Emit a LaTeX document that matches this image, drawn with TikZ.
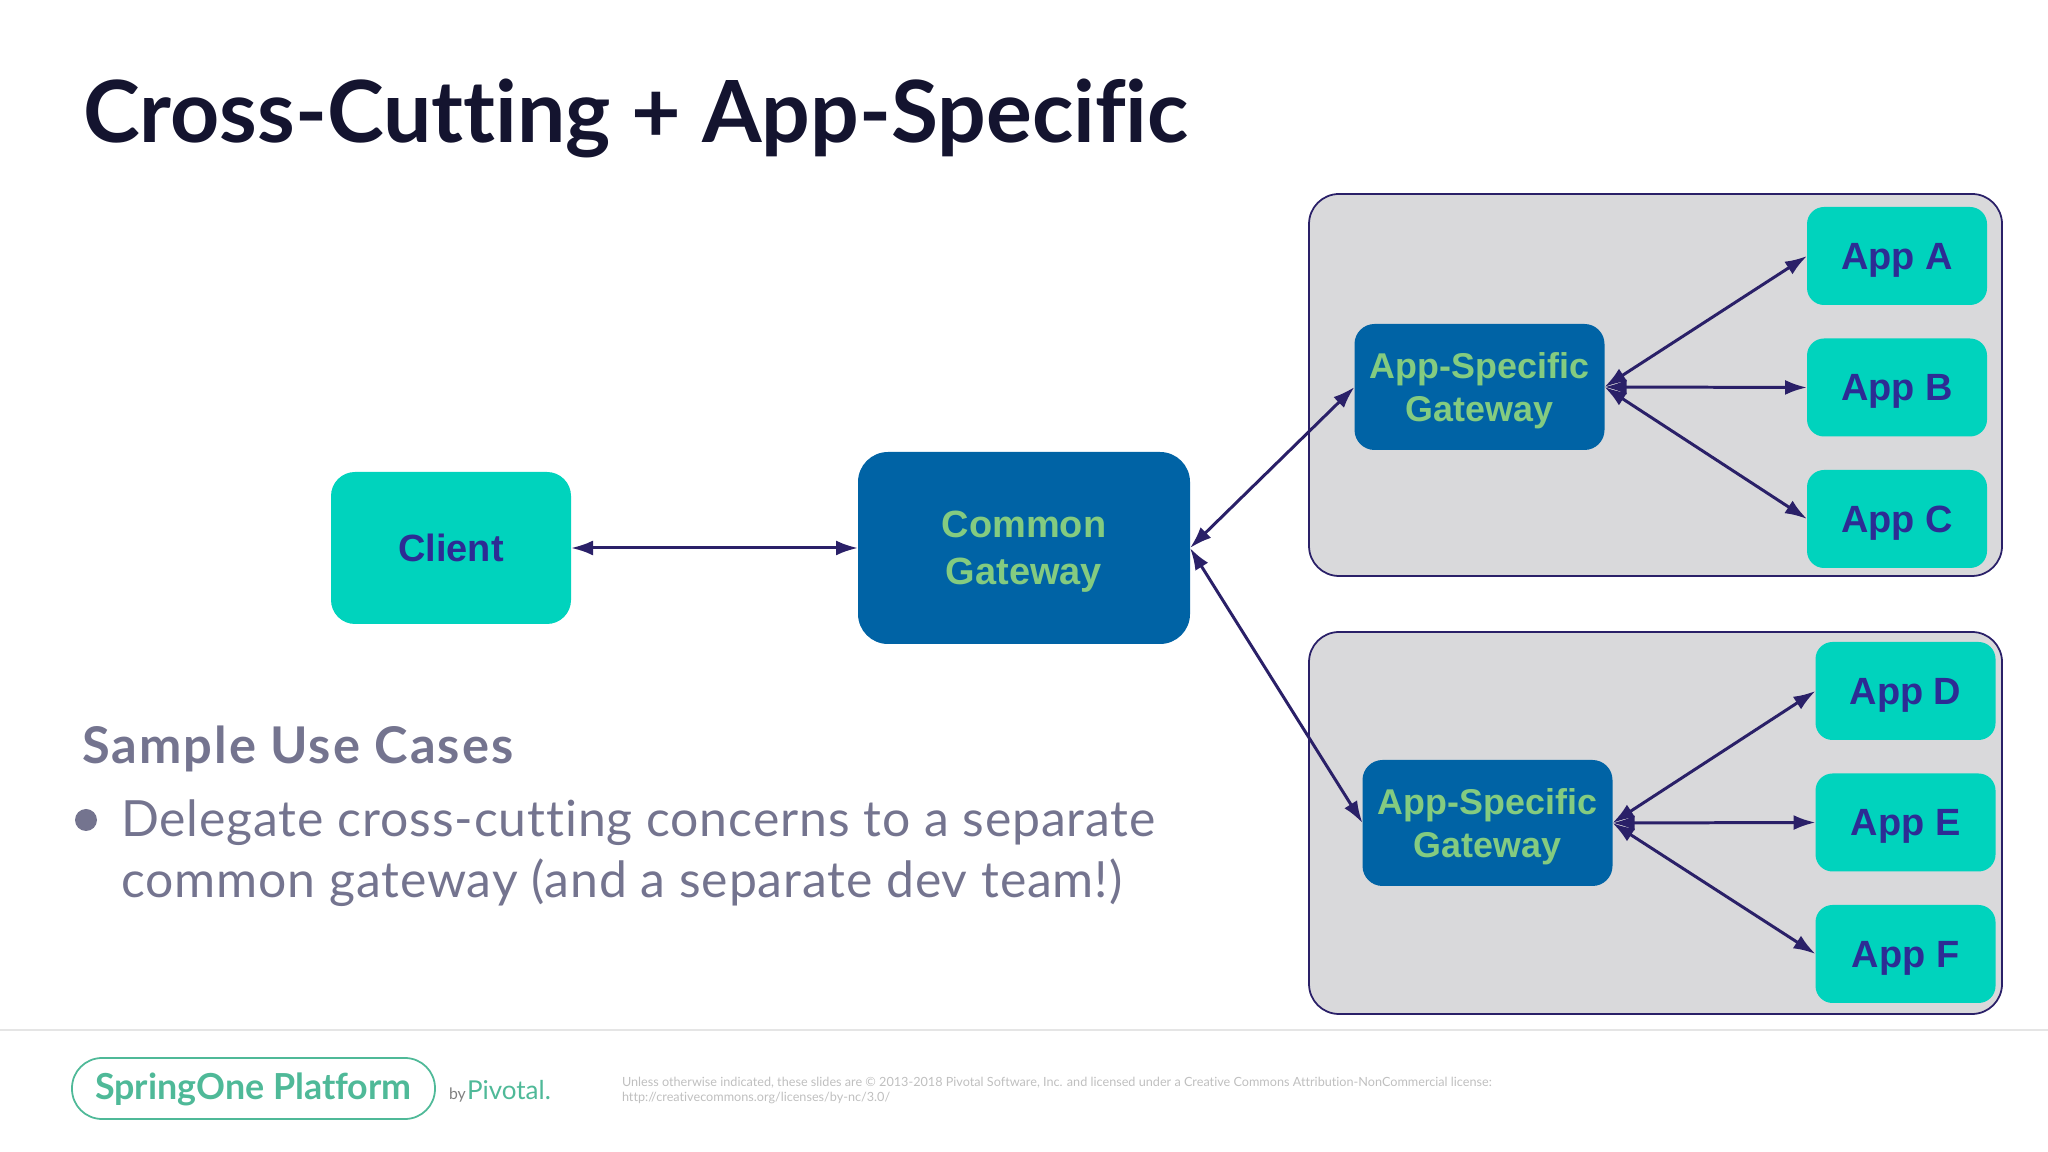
\documentclass[tikz,border=0pt]{standalone}
\usepackage{fontspec}
\setmainfont{Lato}[Ligatures=CommonOff]
\newfontfamily\labelfont{Liberation Sans}
\usepackage{tikz}
\usetikzlibrary{positioning}
\usetikzlibrary{arrows.meta}
\definecolor{titlecol}{HTML}{14142F}
\definecolor{bodycol}{HTML}{74748F}
\definecolor{tealcol}{HTML}{00D3BD}
\definecolor{bluecol}{HTML}{0063A5}
\definecolor{greencol}{HTML}{84CB80}
\definecolor{navycol}{HTML}{2D2C94}
\definecolor{arrowcol}{HTML}{2A2068}
\definecolor{panelcol}{HTML}{D9D9DB}
\definecolor{brandcol}{HTML}{4FB998}

\begin{document}
\begin{tikzpicture}[x=0.1mm,y=-0.1mm,node distance=3.35mm,outer sep=0pt,inner sep=0pt]

	\useasboundingbox (0,0) rectangle (2048,1152);

	\tikzset{panel/.style={shape=rectangle,draw=arrowcol,line width=0.5pt,fill=panelcol,
		rounded corners=3mm,minimum width=69.3mm,minimum height=38.2mm}}

	\tikzset{appbox/.style={align=center,shape=rectangle,fill=tealcol,text=navycol,rounded corners=1.7mm,text depth=0pt,
		minimum width=18mm,minimum height=9.8mm,font=\labelfont\bfseries\fontsize{10.8}{12}\selectfont}}

	\tikzset{gatebox/.style={align=center,shape=rectangle,fill=bluecol,text=greencol,rounded corners=2mm,text depth=0pt,
		minimum width=25mm,minimum height=12.6mm,font=\labelfont\bfseries\fontsize{10.2}{12.4}\selectfont}}

	\tikzset{link/.style={{Latex[length=2.2mm,width=1.5mm]}-{Latex[length=2.2mm,width=1.5mm]},draw=arrowcol,line width=0.85pt}}

	\node (title) at (83,143) [anchor=base west,text=titlecol,font=\bfseries\fontsize{24.4}{28}\selectfont] {Cross-Cutting + App-Specific};

	% Client and common gateway.
	\node (client) at (451,548) [appbox,minimum width=24mm,minimum height=15.2mm,rounded corners=2.4mm,font=\labelfont\bfseries\fontsize{10.8}{12}\selectfont] {Client};
	\node (common) at (1024,548) [gatebox,minimum width=33.2mm,minimum height=19.2mm,rounded corners=3mm,font=\labelfont\bfseries\fontsize{10.8}{13.3}\selectfont] {Common\\Gateway};

	% Upper panel, apps one below another.
	\node (panelone) at (1655.5,385) [panel] {};
	\node (gateone) at (1479.5,387) [gatebox] {App-Specific\\Gateway};
	\node (appa) at (1897,256) [appbox] {App A};
	\node (appb) [appbox,below=of appa] {App B};
	\node (appc) [appbox,below=of appb] {App C};

	% Lower panel, apps one below another.
	\node (paneltwo) at (1655.5,823) [panel] {};
	\node (gatetwo) at (1487.5,823) [gatebox] {App-Specific\\Gateway};
	\node (appd) at (1905.5,691) [appbox] {App D};
	\node (appe) [appbox,below=of appd] {App E};
	\node (appf) [appbox,below=of appe] {App F};

	% Pointers between the boxes.
	\draw [link] (client.east) -- (common.west);
	\draw [link] (common.east) -- (gateone.west);
	\draw [link] (common.east) -- (gatetwo.west);
	\draw [link] (gateone.east) -- (appa.west);
	\draw [link] (gateone.east) -- (appb.west);
	\draw [link] (gateone.east) -- (appc.west);
	\draw [link] (gatetwo.east) -- (appd.west);
	\draw [link] (gatetwo.east) -- (appe.west);
	\draw [link] (gatetwo.east) -- (appf.west);

	% Use cases text.
	\node (usecases) at (82,764) [anchor=base west,text=bodycol,font=\bfseries\fontsize{14.4}{16}\selectfont\addfontfeature{LetterSpace=4}] {Sample Use Cases};
	\node (bullet) at (86,820) [shape=circle,fill=bodycol,minimum size=2.2mm] {};
	\node (bodyone) at (121,837) [anchor=base west,text=bodycol,font=\fontsize{14.2}{17}\selectfont\addfontfeature{LetterSpace=1.8}] {Delegate cross-cutting concerns to a separate};
	\node (bodytwo) at (121,898) [anchor=base west,text=bodycol,font=\fontsize{14.2}{17}\selectfont\addfontfeature{LetterSpace=1.8}] {common gateway (and a separate dev team!)};

	% Footer.
	\draw [draw=black!10,line width=0.8pt] (0,1030) -- (2048,1030);
	\node (pill) at (253.5,1088.5) [shape=rectangle,draw=brandcol,line width=0.5pt,rounded corners=3mm,
		minimum width=36.3mm,minimum height=6.1mm] {};
	\node (brand) at (253.5,1100) [anchor=base,text=brandcol,font=\bfseries\fontsize{10.2}{11}\selectfont] {SpringOne Platform};
	\node (by) at (449,1100) [anchor=base west,text=black!50,font=\fontsize{4.5}{5}\selectfont] {by};
	\node (pivotal) at (467,1100) [anchor=base west,text=brandcol,font=\fontsize{7.4}{8}\selectfont] {Pivotal.};
	\node (legalone) at (622,1086) [anchor=base west,text=black!25,font=\fontsize{3.6}{4}\selectfont] {Unless otherwise indicated, these slides are © 2013-2018 Pivotal Software, Inc. and licensed under a Creative Commons Attribution-NonCommercial license:};
	\node (legaltwo) at (622,1101) [anchor=base west,text=black!25,font=\fontsize{3.6}{4}\selectfont] {http://creativecommons.org/licenses/by-nc/3.0/};
\end{tikzpicture}
\end{document}
